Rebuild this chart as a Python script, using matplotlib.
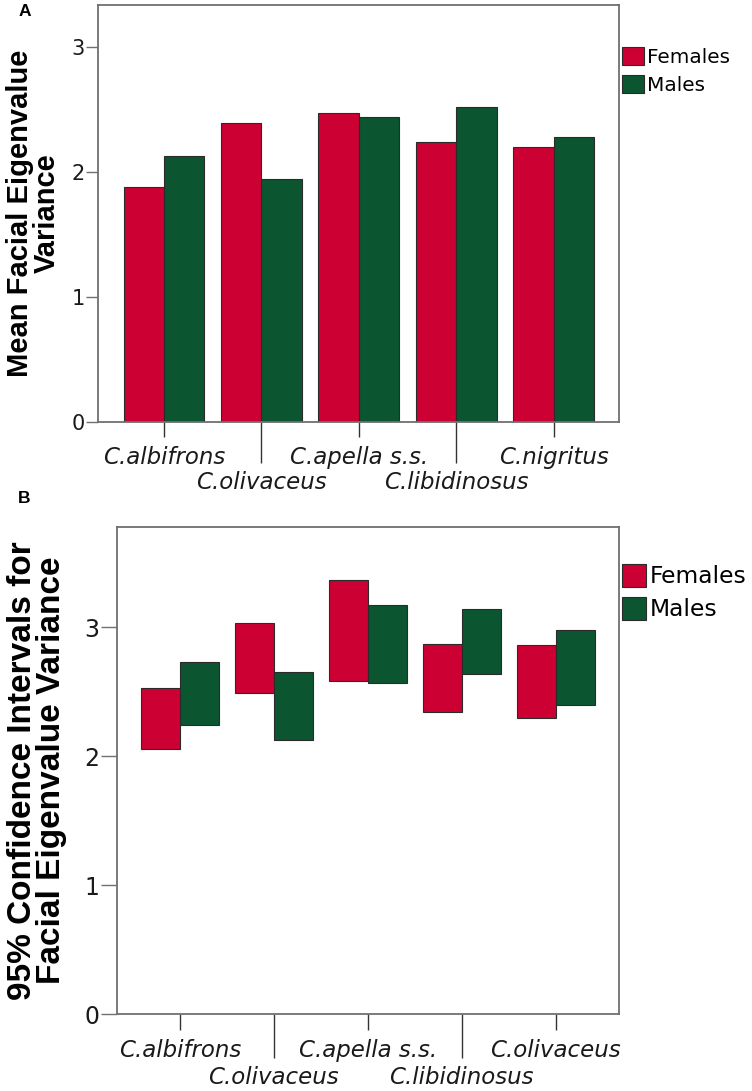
import matplotlib
matplotlib.use('Agg')
import matplotlib.pyplot as plt
from matplotlib.patches import Patch
import numpy as np

# ---------------- data ----------------
species_a = ['C.albifrons', 'C.olivaceus', 'C.apella s.s.', 'C.libidinosus', 'C.nigritus']
species_b = ['C.albifrons', 'C.olivaceus', 'C.apella s.s.', 'C.libidinosus', 'C.olivaceus']
series_labels = ['Females', 'Males']

mean_females = [1.88, 2.39, 2.47, 2.24, 2.20]
mean_males = [2.13, 1.94, 2.44, 2.52, 2.28]

ci_females_low = [2.06, 2.49, 2.58, 2.34, 2.30]
ci_females_high = [2.53, 3.03, 3.37, 2.87, 2.86]
ci_males_low = [2.24, 2.13, 2.57, 2.64, 2.40]
ci_males_high = [2.73, 2.65, 3.17, 3.14, 2.98]

yticks = [0, 1, 2, 3]

# ---------------- style ----------------
RED = '#CC0033'
GREEN = '#0B5530'
EDGE = '#2b2b2b'
SPINE = '#707070'
W, H = 752, 1091
DPI = 100

fig = plt.figure(figsize=(W / DPI, H / DPI), dpi=DPI)


def px_axes(left, top, right, bottom):
    return fig.add_axes([left / W, 1 - bottom / H, (right - left) / W, (bottom - top) / H])


def style_axes(ax, labels, ylim, ytick_len, ytick_pad, ytick_fs,
               short_len, short_pad, long_len, long_pad, cat_fs):
    x = np.arange(len(labels))
    ax.set_xlim(-0.675, len(labels) - 1 + 0.672)
    ax.set_ylim(*ylim)
    ax.set_yticks(yticks)
    ax.set_yticklabels([str(t) for t in yticks], fontsize=ytick_fs, family='DejaVu Sans',
                       color='#1a1a1a')
    ax.set_xticks(x[::2])
    ax.set_xticklabels(labels[::2], fontsize=cat_fs, fontstyle='italic',
                       family='DejaVu Sans', color='#1a1a1a')
    ax.set_xticks(x[1::2], minor=True)
    ax.set_xticklabels(labels[1::2], minor=True, fontsize=cat_fs, fontstyle='italic',
                       family='DejaVu Sans', color='#1a1a1a')
    ax.tick_params(axis='y', which='major', length=ytick_len, width=1.0, color=SPINE,
                   pad=ytick_pad)
    ax.tick_params(axis='x', which='major', length=short_len, width=1.0, color='#333333',
                   pad=short_pad)
    ax.tick_params(axis='x', which='minor', length=long_len, width=1.0, color='#333333',
                   pad=long_pad)
    for s in ax.spines.values():
        s.set_color(SPINE)
        s.set_linewidth(1.3)
    return x


PT = 72.0 / DPI  # points per pixel

# ---------------- Panel A ----------------
axA = px_axes(98.3, 5, 619, 422)
xA = np.arange(len(species_a))
bw = 0.415
axA.bar(xA - bw / 2, mean_females, width=bw, color=RED, edgecolor=EDGE, linewidth=0.8,
        label=series_labels[0])
axA.bar(xA + bw / 2, mean_males, width=bw, color=GREEN, edgecolor=EDGE, linewidth=0.8,
        label=series_labels[1])
style_axes(axA, species_a, (0, 3.336), 12 * PT, 1.5 * PT, 15,
           15 * PT, 9 * PT, 41 * PT, 8 * PT, 16.5)
axA.set_ylabel('Mean Facial Eigenvalue\nVariance', fontsize=21, fontweight='bold',
               family='Liberation Sans', linespacing=0.95)
axA.yaxis.set_label_coords((61 - 98.3) / (619 - 98.3), 0.5)

handlesA = [Patch(facecolor=RED, edgecolor=EDGE, linewidth=0.8),
            Patch(facecolor=GREEN, edgecolor=EDGE, linewidth=0.8)]
legA = fig.legend(handlesA, series_labels, loc='upper left',
                  bbox_to_anchor=(621.7 / W, 1 - 47 / H), frameon=False,
                  prop={'family': 'DejaVu Sans', 'size': 14.4},
                  handlelength=1.1, handleheight=1.0, handletextpad=0.17,
                  labelspacing=0.4, borderpad=0, borderaxespad=0)

# ---------------- Panel B ----------------
axB = px_axes(116.5, 526.7, 618.7, 1014.3)
xB = np.arange(len(species_b))
f_low = np.array(ci_females_low)
f_high = np.array(ci_females_high)
m_low = np.array(ci_males_low)
m_high = np.array(ci_males_high)
axB.bar(xB - bw / 2, f_high - f_low, bottom=f_low, width=bw, color=RED, edgecolor=EDGE,
        linewidth=0.8)
axB.bar(xB + bw / 2, m_high - m_low, bottom=m_low, width=bw, color=GREEN, edgecolor=EDGE,
        linewidth=0.8)
style_axes(axB, species_b, (0, 3.78), 16 * PT, 1.5 * PT, 17,
           16 * PT, 9 * PT, 44 * PT, 8 * PT, 16.5)
axB.set_ylabel('95% Confidence Intervals for\nFacial Eigenvalue Variance', fontsize=24,
               fontweight='bold', family='Liberation Sans', linespacing=0.9)
axB.yaxis.set_label_coords((67 - 116.5) / (618.7 - 116.5), 0.5)

handlesB = [Patch(facecolor=RED, edgecolor=EDGE, linewidth=0.8),
            Patch(facecolor=GREEN, edgecolor=EDGE, linewidth=0.8)]
legB = fig.legend(handlesB, series_labels, loc='upper left',
                  bbox_to_anchor=(622 / W, 1 - 564 / H), frameon=False,
                  prop={'family': 'DejaVu Sans', 'size': 16.8},
                  handlelength=1.03, handleheight=1.12, handletextpad=0.15,
                  labelspacing=0.38, borderpad=0, borderaxespad=0)

# panel letters
fig.text(25 / W, 1 - 11 / H, 'A', fontsize=12.5, fontweight='bold', family='Liberation Sans',
         ha='center', va='center')
fig.text(24.5 / W, 1 - 499 / H, 'B', fontsize=12.5, fontweight='bold', family='Liberation Sans',
         ha='center', va='center')

fig.savefig('out.png', dpi=DPI)
